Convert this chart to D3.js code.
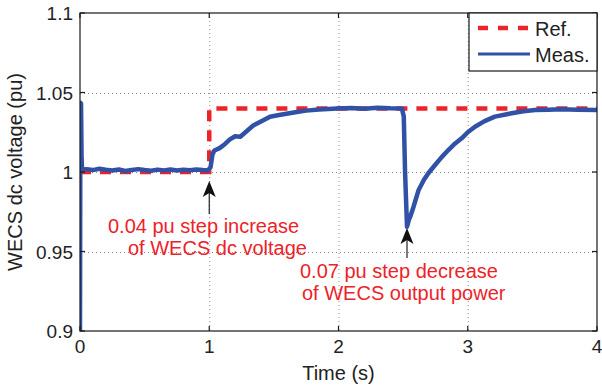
<!DOCTYPE html>
<html>
<head>
<meta charset="utf-8">
<script src="https://cdn.jsdelivr.net/npm/d3@7"></script>
<style>
  body { margin: 0; background: #fff; }
  text { font-family: "Liberation Sans", Arial, sans-serif; }
</style>
</head>
<body>
<svg id="viz_area" width="602" height="387"></svg>
<script>
// reference (step) signal
var refT = [0, 1, 1, 4]
var refV = [1, 1, 1.04, 1.04]

var measT = [0, 0.003, 0.008, 0.012, 0.016, 0.05, 0.1, 0.15, 0.2, 0.25, 0.3, 0.35, 0.4, 0.45, 0.5,
  0.55, 0.6, 0.65, 0.7, 0.75, 0.8, 0.85, 0.9, 0.95, 0.99, 1.01, 1.025, 1.04, 1.08, 1.12, 1.16, 1.2,
  1.24, 1.28, 1.34, 1.4, 1.47, 1.54, 1.62, 1.7, 1.75, 1.85, 1.99, 2.1, 2.2, 2.3, 2.4, 2.49, 2.505,
  2.515, 2.53, 2.545, 2.555, 2.58, 2.62, 2.66, 2.695, 2.747, 2.8, 2.85, 2.9, 2.953, 3.0, 3.056,
  3.13, 3.21, 3.34, 3.43, 3.52, 3.62, 3.727, 3.85, 4.0]
var measV = [0.9, 1.0436, 1.043, 1.01, 1.0015, 1.0018, 1.0012, 1.0020, 1.0014, 1.0010, 1.0016, 1.0006,
  1.0013, 1.0018, 1.0012, 1.0008, 1.0015, 1.0010, 1.0016, 1.0009, 1.0014, 1.0011, 1.0016, 1.0012,
  1.0010, 1.003, 1.011, 1.0135, 1.015, 1.0175, 1.0205, 1.0225, 1.0222, 1.025, 1.0292, 1.0318, 1.0348,
  1.0358, 1.0370, 1.0380, 1.0386, 1.0393, 1.0400, 1.0402, 1.0398, 1.0404, 1.0401, 1.0400, 1.035,
  1.0, 0.9656, 0.9700, 0.9719, 0.978, 0.9887, 0.995, 0.9992, 1.0044, 1.0095, 1.0138, 1.0178, 1.0212,
  1.025, 1.0285, 1.032, 1.0348, 1.0369, 1.0382, 1.039, 1.0392, 1.0394, 1.0391, 1.039]

var xTicks = [0, 1, 2, 3, 4]
var yTicks = [0.9, 0.95, 1, 1.05, 1.1]
var legendNames = ["Ref.", "Meas."]

var annotations = [
  { t: 1.0, lines: ["0.04 pu step increase", "of WECS dc voltage"] },
  { t: 2.53, lines: ["0.07 pu step decrease", "of WECS output power"] }
]

var margin = { left: 80, top: 13, right: 5, bottom: 56 }
var W = 602, H = 387
var svg = d3.select("#viz_area")

var x = d3.scaleLinear().domain([0, 4]).range([margin.left, W - margin.right])
var y = d3.scaleLinear().domain([0.9, 1.1]).range([H - margin.bottom, margin.top])

var red = "#ee2229", blue = "#3051a6"

// grid
var grid = svg.append("g").attr("stroke", "#8a8a8a").attr("stroke-width", 1).attr("stroke-dasharray", "1,3")
grid.selectAll(".gx").data(xTicks.slice(1, -1)).enter().append("line")
  .attr("x1", d => x(d) + 0.5).attr("x2", d => x(d) + 0.5)
  .attr("y1", y(1.1)).attr("y2", y(0.9))
grid.selectAll(".gy").data(yTicks.slice(1, -1)).enter().append("line")
  .attr("x1", x(0)).attr("x2", x(4))
  .attr("y1", d => Math.round(y(d)) + 0.5).attr("y2", d => Math.round(y(d)) + 0.5)

// lines
var line = d3.line().x(d => x(d[0])).y(d => y(d[1]))
var refData = refT.map((t, i) => [t, refV[i]])
var measData = measT.map((t, i) => [t, measV[i]])

svg.append("path").datum(refData).attr("d", line)
  .attr("fill", "none").attr("stroke", red).attr("stroke-width", 4.5)
  .attr("stroke-dasharray", "11,9")

svg.append("clipPath").attr("id", "clip").append("rect")
  .attr("x", x(0)).attr("y", y(1.1)).attr("width", x(4) - x(0)).attr("height", y(0.9) - y(1.1))

svg.append("path").datum(measData).attr("d", line).attr("clip-path", "url(#clip)")
  .attr("fill", "none").attr("stroke", blue).attr("stroke-width", 4.5)
  .attr("stroke-linejoin", "round")

// axes (box with inward ticks)
var tickLen = 5
var axG = svg.append("g").attr("stroke", "#1a1a1a").attr("stroke-width", 1.2)
axG.append("rect").attr("x", x(0)).attr("y", y(1.1)).attr("width", x(4) - x(0)).attr("height", y(0.9) - y(1.1))
  .attr("fill", "none")
xTicks.forEach(function (d) {
  axG.append("line").attr("x1", x(d)).attr("x2", x(d)).attr("y1", y(0.9)).attr("y2", y(0.9) - tickLen)
  axG.append("line").attr("x1", x(d)).attr("x2", x(d)).attr("y1", y(1.1)).attr("y2", y(1.1) + tickLen)
})
yTicks.forEach(function (d) {
  axG.append("line").attr("x1", x(0)).attr("x2", x(0) + tickLen).attr("y1", y(d)).attr("y2", y(d))
  axG.append("line").attr("x1", x(4)).attr("x2", x(4) - tickLen).attr("y1", y(d)).attr("y2", y(d))
})

svg.selectAll(".xl").data(xTicks).enter().append("text")
  .attr("x", d => x(d)).attr("y", y(0.9) + 22).attr("text-anchor", "middle")
  .attr("font-size", 19).attr("fill", "#222").text(d => d)
svg.selectAll(".yl").data(yTicks).enter().append("text")
  .attr("x", x(0) - 7).attr("y", d => y(d) + 7).attr("text-anchor", "end")
  .attr("font-size", 19).attr("fill", "#222").text(d => d)

svg.append("text").attr("x", (x(0) + x(4)) / 2).attr("y", H - 7).attr("text-anchor", "middle")
  .attr("font-size", 20).attr("fill", "#222").text("Time (s)")
svg.append("text").attr("transform", "translate(22," + ((y(0.9) + y(1.1)) / 2) + ") rotate(-90)")
  .attr("text-anchor", "middle").attr("font-size", 20).attr("fill", "#222").text("WECS dc voltage (pu)")

// legend
var lg = svg.append("g")
lg.append("rect").attr("x", 469).attr("y", y(1.1)).attr("width", x(4) - 469).attr("height", 58)
  .attr("fill", "#fff").attr("stroke", "#1a1a1a").attr("stroke-width", 1.2)
var legendStyle = [{ c: red, dash: "10,10", w: 4.5 }, { c: blue, dash: null, w: 3 }]
legendNames.forEach(function (name, i) {
  var ly = 28 + i * 26
  lg.append("line").attr("x1", 478).attr("x2", 530).attr("y1", ly).attr("y2", ly)
    .attr("stroke", legendStyle[i].c).attr("stroke-width", legendStyle[i].w)
    .attr("stroke-dasharray", legendStyle[i].dash)
  lg.append("text").attr("x", 535).attr("y", ly + 7.5).attr("font-size", 20).attr("fill", "#222").text(name)
})

// annotations with arrows
var textPos = [
  { dx: [108, 128], dy: [233, 255], tail: 214, tip: 181 },
  { dx: [300, 302], dy: [278, 300], tail: 258, tip: 228 }
]
annotations.forEach(function (a, i) {
  var p = textPos[i]
  var ax = x(a.t)
  svg.append("line").attr("x1", ax).attr("x2", ax).attr("y1", p.tail).attr("y2", p.tip + 8)
    .attr("stroke", "#222").attr("stroke-width", 1.2)
  svg.append("path")
    .attr("d", "M" + ax + "," + p.tip + " L" + (ax + 6.5) + "," + (p.tip + 16) + " L" + ax + "," + (p.tip + 12) +
      " L" + (ax - 6.5) + "," + (p.tip + 16) + " Z")
    .attr("fill", "#111")
  a.lines.forEach(function (s, j) {
    svg.append("text").attr("x", p.dx[j]).attr("y", p.dy[j]).attr("font-size", 20)
      .attr("fill", red).text(s)
  })
})
</script>
</body>
</html>
